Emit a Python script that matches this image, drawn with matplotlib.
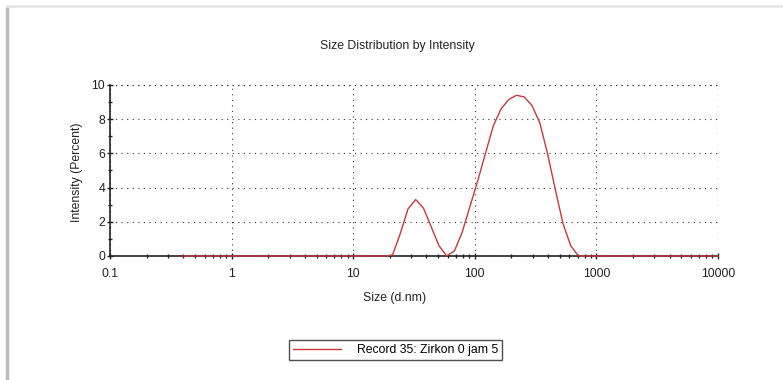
import matplotlib.pyplot as plt
from matplotlib.lines import Line2D
from matplotlib.ticker import LogLocator, FixedLocator, NullFormatter

plt.rcParams['font.family'] = ['Liberation Sans', 'DejaVu Sans']

# instrument size bins (d.nm)
sizes = [0.4, 0.4632, 0.5365, 0.6213, 0.7195, 0.8332, 0.9649, 1.117, 1.294, 1.499,
         1.736, 2.01, 2.328, 2.696, 3.122, 3.615, 4.187, 4.849, 5.615, 6.503,
         7.531, 8.721, 10.1, 11.7, 13.54, 15.69, 18.17, 21.04, 24.36, 28.21,
         32.67, 37.84, 43.82, 50.75, 58.77, 68.06, 78.82, 91.28, 105.7, 122.4,
         141.8, 164.2, 190.1, 220.2, 255.0, 295.3, 342.0, 396.1, 458.7, 531.2,
         615.1, 712.4, 825.0, 955.4, 1106, 1281, 1484, 1718, 1990, 2305,
         2669, 3091, 3580, 4145, 4801, 5560, 6439, 7456, 8635, 10000]
intensity = [0, 0, 0, 0, 0, 0, 0, 0, 0, 0,
             0, 0, 0, 0, 0, 0, 0, 0, 0, 0,
             0, 0, 0, 0, 0, 0, 0, 0.05, 1.3, 2.75,
             3.3, 2.8, 1.7, 0.6, 0.0, 0.3, 1.4, 2.9, 4.4, 6.0,
             7.6, 8.6, 9.15, 9.4, 9.3, 8.8, 7.8, 6.0, 3.9, 1.9,
             0.6, 0.0, 0, 0, 0, 0, 0, 0, 0, 0,
             0, 0, 0, 0, 0, 0, 0, 0, 0, 0]
legend_label = 'Record 35: Zirkon 0 jam 5'

fs = 8.8
txt = '#222222'

fig = plt.figure(figsize=(7.83, 3.8), dpi=100)
ax = fig.add_axes([110 / 783, 124 / 380, 608 / 783, 171 / 380])

ax.plot(sizes, intensity, color='#c8383c', lw=1.0, label=legend_label, zorder=3,
        clip_on=False)
ax.set_xscale('log')
ax.set_xlim(0.1, 10000)
ax.set_ylim(0, 10)

ax.xaxis.set_major_locator(FixedLocator([0.1, 1, 10, 100, 1000, 10000]))
ax.set_xticklabels(['0.1', '1', '10', '100', '1000', '10000'])
ax.xaxis.set_minor_locator(LogLocator(base=10, subs=range(2, 10)))
ax.xaxis.set_minor_formatter(NullFormatter())
ax.set_yticks([0, 2, 4, 6, 8, 10])
ax.set_yticks([1, 3, 5, 7, 9], minor=True)

ax.tick_params(axis='both', which='major', labelsize=fs, colors=txt,
               direction='inout', length=5, width=1)
ax.tick_params(axis='x', which='major', pad=6)
ax.tick_params(axis='y', which='major', pad=1)
ax.tick_params(axis='both', which='minor', direction='inout', length=3, width=1,
               colors=txt)

for s in ['top', 'right']:
    ax.spines[s].set_visible(False)
for s in ['left', 'bottom']:
    ax.spines[s].set_color(txt)
    ax.spines[s].set_linewidth(1.2)

ax.grid(True, which='major', linestyle=(0, (1, 4)), color='#333333', lw=0.8)
# top and right dotted lines
ax.axhline(10, linestyle=(0, (1, 4)), color='#333333', lw=0.8)
ax.axvline(10000, linestyle=(0, (1, 4)), color='#333333', lw=0.8)

fig.text(397 / 783, 1 - 46 / 380, 'Size Distribution by Intensity', fontsize=fs,
         color=txt, ha='center', va='center')
ax.set_xlabel('Size (d.nm)', fontsize=fs, color=txt)
ax.xaxis.set_label_coords((395 - 110) / 608, (256 - 298) / 171)
ax.xaxis.label.set_va('center')
ax.set_ylabel('Intensity (Percent)', fontsize=fs, color=txt)
ax.yaxis.set_label_coords((77 - 110) / 608, (256 - 172) / 171)
ax.yaxis.label.set_va('center')

leg = fig.legend(loc='center', bbox_to_anchor=(395.5 / 783, 1 - 350 / 380),
                 fontsize=fs, frameon=True, fancybox=False, edgecolor=txt,
                 handlelength=3.9, handletextpad=1.3, borderpad=0.3,
                 borderaxespad=0)
leg.get_frame().set_linewidth(1.0)

# screenshot frame
fig.add_artist(Line2D([7 / 783, 7 / 783], [0, 1 - 8 / 380], transform=fig.transFigure,
                      color='#bbbbbb', lw=2.5))
fig.add_artist(Line2D([7 / 783, 1], [1 - 6 / 380, 1 - 6 / 380], transform=fig.transFigure,
                      color='#e6e6e6', lw=2))

fig.savefig('out.png', dpi=100)
